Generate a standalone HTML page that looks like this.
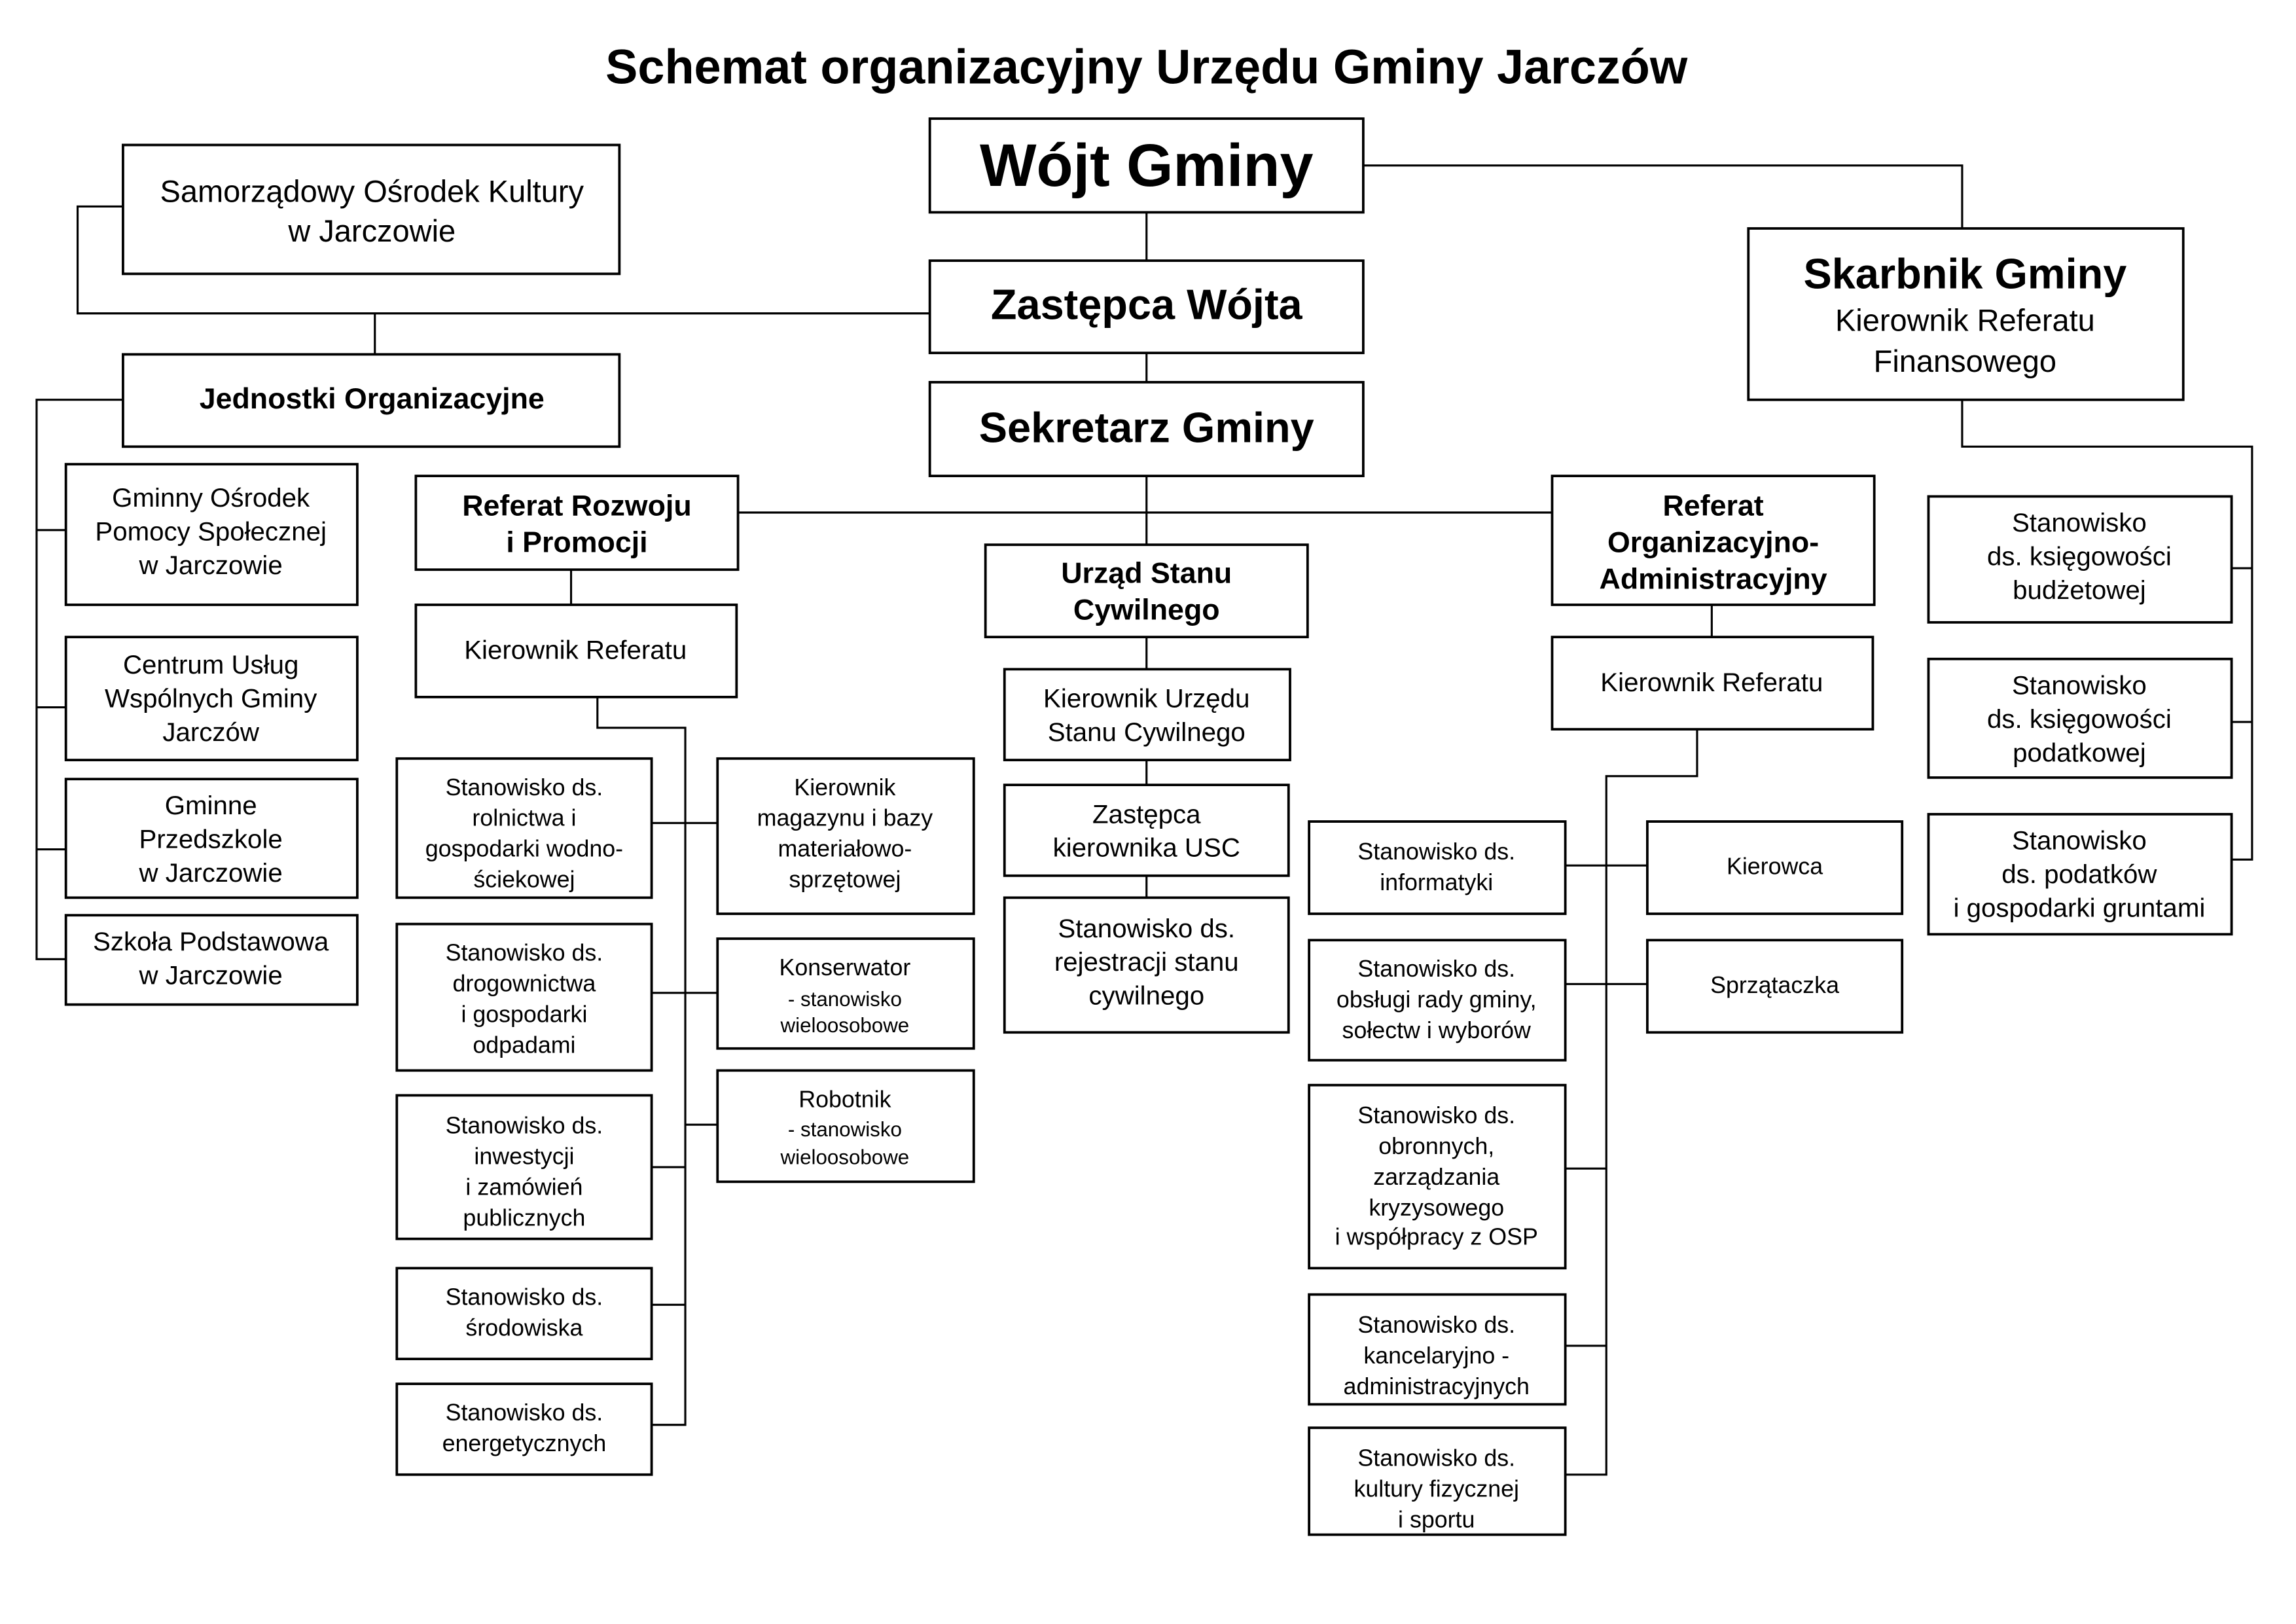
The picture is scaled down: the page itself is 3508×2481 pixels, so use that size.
<!DOCTYPE html>
<html><head><meta charset="utf-8"><style>
html,body{margin:0;padding:0;background:#fff;}
svg{display:block;}
text{font-family:"Liberation Sans",sans-serif;fill:#000;text-anchor:middle;}
.b{font-weight:bold;}
rect{fill:#fff;stroke:#000;stroke-width:1.7;}
line,polyline{stroke:#000;stroke-width:1.4;fill:none;}
</style></head><body>
<svg width="3508" height="2481" viewBox="0 0 1568 1109" preserveAspectRatio="none">
<line x1="783" y1="145" x2="783" y2="178"/>
<polyline points="931,113 1340,113 1340,156"/>
<polyline points="635,214 53,214 53,141 84,141"/>
<line x1="256" y1="214" x2="256" y2="242"/>
<line x1="783" y1="241" x2="783" y2="261"/>
<line x1="783" y1="325" x2="783" y2="372"/>
<line x1="504" y1="350" x2="1060" y2="350"/>
<polyline points="84,273 25,273 25,655 45,655"/>
<line x1="25" y1="362" x2="45" y2="362"/>
<line x1="25" y1="483" x2="45" y2="483"/>
<line x1="25" y1="580" x2="45" y2="580"/>
<line x1="390" y1="389" x2="390" y2="413"/>
<polyline points="408,476 408,497 468,497 468,973 445,973"/>
<line x1="445" y1="562" x2="490" y2="562"/>
<line x1="445" y1="678" x2="490" y2="678"/>
<line x1="468" y1="768" x2="490" y2="768"/>
<line x1="445" y1="797" x2="468" y2="797"/>
<line x1="445" y1="891" x2="468" y2="891"/>
<line x1="783" y1="435" x2="783" y2="457"/>
<line x1="783" y1="519" x2="783" y2="536"/>
<line x1="783" y1="598" x2="783" y2="613"/>
<line x1="1169" y1="413" x2="1169" y2="435"/>
<polyline points="1159,498 1159,530 1097,530 1097,1007 1069,1007"/>
<line x1="1069" y1="591" x2="1125" y2="591"/>
<line x1="1069" y1="672" x2="1125" y2="672"/>
<line x1="1069" y1="798" x2="1097" y2="798"/>
<line x1="1069" y1="919" x2="1097" y2="919"/>
<polyline points="1340,273 1340,305 1538,305 1538,587 1524,587"/>
<line x1="1524" y1="388" x2="1538" y2="388"/>
<line x1="1524" y1="493" x2="1538" y2="493"/>

<text x="783" y="57" class="b" font-size="33">Schemat organizacyjny Urzędu Gminy Jarczów</text>

<rect x="635" y="81" width="296" height="64"/>
<text x="783" y="127" class="b" font-size="41">Wójt Gminy</text>
<rect x="635" y="178" width="296" height="63"/>
<text x="783" y="218" class="b" font-size="29">Zastępca Wójta</text>
<rect x="635" y="261" width="296" height="64"/>
<text x="783" y="302" class="b" font-size="29">Sekretarz Gminy</text>

<rect x="84" y="99" width="339" height="88"/>
<text x="254" y="138" font-size="21">Samorządowy Ośrodek Kultury</text>
<text x="254" y="165" font-size="21">w Jarczowie</text>

<rect x="1194" y="156" width="297" height="117"/>
<text x="1342" y="197" class="b" font-size="29">Skarbnik Gminy</text>
<text x="1342" y="226" font-size="21">Kierownik Referatu</text>
<text x="1342" y="254" font-size="21">Finansowego</text>

<rect x="84" y="242" width="339" height="63"/>
<text x="254" y="279" class="b" font-size="20">Jednostki Organizacyjne</text>

<g font-size="18">
<rect x="45" y="317" width="199" height="96"/>
<text x="144" y="346">Gminny Ośrodek</text><text x="144" y="369">Pomocy Społecznej</text><text x="144" y="392">w Jarczowie</text>
<rect x="45" y="435" width="199" height="84"/>
<text x="144" y="460">Centrum Usług</text><text x="144" y="483">Wspólnych Gminy</text><text x="144" y="506">Jarczów</text>
<rect x="45" y="532" width="199" height="81"/>
<text x="144" y="556">Gminne</text><text x="144" y="579">Przedszkole</text><text x="144" y="602">w Jarczowie</text>
<rect x="45" y="625" width="199" height="61"/>
<text x="144" y="649">Szkoła Podstawowa</text><text x="144" y="672">w Jarczowie</text>
</g>

<rect x="284" y="325" width="220" height="64"/>
<text x="394" y="352" class="b" font-size="20">Referat Rozwoju</text>
<text x="394" y="377" class="b" font-size="20">i Promocji</text>
<rect x="284" y="413" width="219" height="63"/>
<text x="393" y="450" font-size="18">Kierownik Referatu</text>

<g font-size="16">
<rect x="271" y="518" width="174" height="95"/>
<text x="358" y="543">Stanowisko ds.</text><text x="358" y="564">rolnictwa i</text><text x="358" y="585">gospodarki wodno-</text><text x="358" y="606">ściekowej</text>
<rect x="271" y="631" width="174" height="100"/>
<text x="358" y="656">Stanowisko ds.</text><text x="358" y="677">drogownictwa</text><text x="358" y="698">i gospodarki</text><text x="358" y="719">odpadami</text>
<rect x="271" y="748" width="174" height="98"/>
<text x="358" y="774">Stanowisko ds.</text><text x="358" y="795">inwestycji</text><text x="358" y="816">i zamówień</text><text x="358" y="837">publicznych</text>
<rect x="271" y="866" width="174" height="62"/>
<text x="358" y="891">Stanowisko ds.</text><text x="358" y="912">środowiska</text>
<rect x="271" y="945" width="174" height="62"/>
<text x="358" y="970">Stanowisko ds.</text><text x="358" y="991">energetycznych</text>

<rect x="490" y="518" width="175" height="106"/>
<text x="577" y="543">Kierownik</text><text x="577" y="564">magazynu i bazy</text><text x="577" y="585">materiałowo-</text><text x="577" y="606">sprzętowej</text>
<rect x="490" y="641" width="175" height="75"/>
<text x="577" y="666">Konserwator</text><text x="577" y="687" font-size="14">- stanowisko</text><text x="577" y="705" font-size="14">wieloosobowe</text>
<rect x="490" y="731" width="175" height="76"/>
<text x="577" y="756">Robotnik</text><text x="577" y="776" font-size="14">- stanowisko</text><text x="577" y="795" font-size="14">wieloosobowe</text>
</g>

<rect x="673" y="372" width="220" height="63"/>
<text x="783" y="398" class="b" font-size="20">Urząd Stanu</text>
<text x="783" y="423" class="b" font-size="20">Cywilnego</text>
<g font-size="18">
<rect x="686" y="457" width="195" height="62"/>
<text x="783" y="483">Kierownik Urzędu</text><text x="783" y="506">Stanu Cywilnego</text>
<rect x="686" y="536" width="194" height="62"/>
<text x="783" y="562">Zastępca</text><text x="783" y="585">kierownika USC</text>
<rect x="686" y="613" width="194" height="92"/>
<text x="783" y="640">Stanowisko ds.</text><text x="783" y="663">rejestracji stanu</text><text x="783" y="686">cywilnego</text>
</g>

<rect x="1060" y="325" width="220" height="88"/>
<text x="1170" y="352" class="b" font-size="20">Referat</text>
<text x="1170" y="377" class="b" font-size="20">Organizacyjno-</text>
<text x="1170" y="402" class="b" font-size="20">Administracyjny</text>
<rect x="1060" y="435" width="219" height="63"/>
<text x="1169" y="472" font-size="18">Kierownik Referatu</text>

<g font-size="16">
<rect x="894" y="561" width="175" height="63"/>
<text x="981" y="587">Stanowisko ds.</text><text x="981" y="608">informatyki</text>
<rect x="894" y="642" width="175" height="82"/>
<text x="981" y="667">Stanowisko ds.</text><text x="981" y="688">obsługi rady gminy,</text><text x="981" y="709">sołectw i wyborów</text>
<rect x="894" y="741" width="175" height="125"/>
<text x="981" y="767">Stanowisko ds.</text><text x="981" y="788">obronnych,</text><text x="981" y="809">zarządzania</text><text x="981" y="830">kryzysowego</text><text x="981" y="850">i współpracy z OSP</text>
<rect x="894" y="884" width="175" height="75"/>
<text x="981" y="910">Stanowisko ds.</text><text x="981" y="931">kancelaryjno -</text><text x="981" y="952">administracyjnych</text>
<rect x="894" y="975" width="175" height="73"/>
<text x="981" y="1001">Stanowisko ds.</text><text x="981" y="1022">kultury fizycznej</text><text x="981" y="1043">i sportu</text>
<rect x="1125" y="561" width="174" height="63"/>
<text x="1212" y="597">Kierowca</text>
<rect x="1125" y="642" width="174" height="63"/>
<text x="1212" y="678">Sprzątaczka</text>
</g>

<g font-size="18">
<rect x="1317" y="339" width="207" height="86"/>
<text x="1420" y="363">Stanowisko</text><text x="1420" y="386">ds. księgowości</text><text x="1420" y="409">budżetowej</text>
<rect x="1317" y="450" width="207" height="81"/>
<text x="1420" y="474">Stanowisko</text><text x="1420" y="497">ds. księgowości</text><text x="1420" y="520">podatkowej</text>
<rect x="1317" y="556" width="207" height="82"/>
<text x="1420" y="580">Stanowisko</text><text x="1420" y="603">ds. podatków</text><text x="1420" y="626">i gospodarki gruntami</text>
</g>
</svg>
</body></html>
